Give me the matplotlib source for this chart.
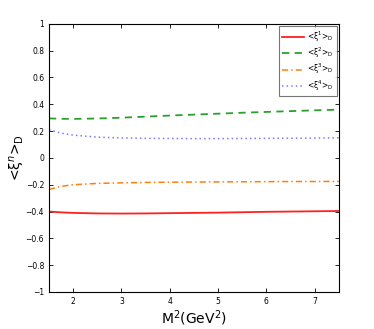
import numpy as np
import matplotlib.pyplot as plt

# Borel parameter M^2 (GeV^2)
m2 = [1.5, 1.75, 2.0, 2.5, 3.0, 3.5, 4.0, 4.5, 5.0, 5.5, 6.0, 6.5, 7.0, 7.5]

# moments <xi^n>_D
xi1 = [-0.400, -0.406, -0.410, -0.414, -0.415, -0.414, -0.412, -0.410, -0.408, -0.405, -0.402, -0.400, -0.398, -0.396]
xi2 = [0.295, 0.292, 0.291, 0.294, 0.300, 0.308, 0.316, 0.323, 0.330, 0.337, 0.343, 0.349, 0.355, 0.360]
xi3 = [-0.235, -0.212, -0.200, -0.190, -0.186, -0.183, -0.181, -0.180, -0.179, -0.178, -0.177, -0.176, -0.176, -0.175]
xi4 = [0.210, 0.185, 0.170, 0.155, 0.149, 0.146, 0.145, 0.144, 0.144, 0.145, 0.146, 0.147, 0.148, 0.150]

fig = plt.figure(figsize=(3.74, 3.29), dpi=100)
ax = fig.add_axes([0.131, 0.1125, 0.775, 0.815])

ax.plot(m2, xi1, color='#ff2020', lw=1.3, ls='-', label=r'<ξ$^1$>$_\mathrm{D}$')
ax.plot(m2, xi2, color='#2ca02c', lw=1.3, ls=(0, (4, 3)), label=r'<ξ$^2$>$_\mathrm{D}$')
ax.plot(m2, xi3, color='#ff7f0e', lw=1.1, ls=(0, (4, 2, 1, 2)), label=r'<ξ$^3$>$_\mathrm{D}$')
ax.plot(m2, xi4, color='#7b7bff', lw=1.1, ls=(0, (1, 2)), label=r'<ξ$^4$>$_\mathrm{D}$')

ax.set_xlim(1.5, 7.5)
ax.set_ylim(-1, 1)
ax.set_xticks([2, 3, 4, 5, 6, 7])
ax.set_yticks(np.arange(-1, 1.01, 0.2))
ax.set_yticklabels(['\u22121', '\u22120.8', '\u22120.6', '\u22120.4', '\u22120.2', '0',
                    '0.2', '0.4', '0.6', '0.8', '1'])
ax.tick_params(direction='in', labelsize=5.5, top=True, right=True, length=3, width=0.6)
for s in ax.spines.values():
    s.set_linewidth(0.8)

ax.set_xlabel('M$^2$(GeV$^2$)', fontsize=10, labelpad=2)
ax.set_ylabel(r'<ξ$^n$>$_\mathrm{D}$', fontsize=10)
ax.yaxis.set_label_coords(-0.075, 0.5)

leg = ax.legend(loc='upper right', fontsize=5.5, handlelength=2.8, handletextpad=0.4,
                frameon=True, fancybox=False, borderaxespad=0.3, labelspacing=0.25,
                borderpad=0.4)
leg.get_frame().set_edgecolor('#555555')
leg.get_frame().set_linewidth(0.8)

fig.savefig('out.png', dpi=100)
